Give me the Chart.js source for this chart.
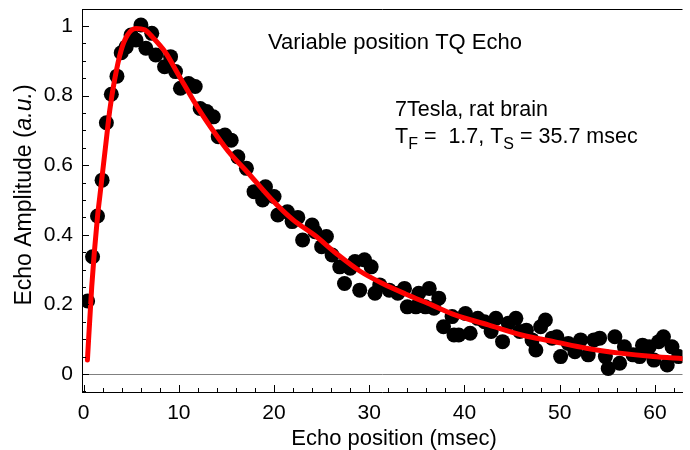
<!DOCTYPE html>
<html>
<head>
<meta charset="utf-8">
<script src="https://cdn.jsdelivr.net/npm/chart.js@4.4.1/dist/chart.umd.min.js"></script>
<style>
  html, body { margin: 0; padding: 0; background: #fff; }
  canvas { display: block; }
</style>
</head>
<body>
<canvas id="c" width="690" height="450"></canvas>
<script>
// ---- data ----
const echoX = [0.42,0.94,1.46,1.94,2.39,2.91,3.5,3.95,4.47,4.98,5.5,6.02,6.54,7.16,7.58,8.5,9.13,9.65,10.17,11.03,11.72,12.24,12.93,13.62,14.14,14.84,15.5,16.2,17.1,17.9,18.8,19.1,20.0,20.4,21.4,21.9,22.5,23.0,24.0,24.3,25.0,25.5,26.1,26.9,27.4,28.0,28.5,29.0,29.5,30.2,30.6,31.1,32.1,33.0,33.7,34.0,34.9,35.2,35.9,36.3,36.8,37.3,37.8,38.7,38.9,39.4,40.1,40.6,41.4,42.1,42.8,43.3,44.0,44.6,45.4,45.8,46.5,47.1,47.5,48.0,48.5,49.2,49.7,50.1,50.9,51.6,52.2,53.0,53.6,54.2,54.8,55.1,55.8,56.3,56.8,57.7,58.4,58.7,59.4,59.9,60.4,60.9,61.3,61.8,62.5];
const echoY = [0.21,0.337,0.454,0.557,0.722,0.804,0.856,0.923,0.94,0.974,0.96,1.003,0.936,0.979,0.917,0.883,0.912,0.869,0.821,0.835,0.826,0.763,0.754,0.739,0.682,0.687,0.672,0.624,0.591,0.524,0.5,0.538,0.51,0.457,0.466,0.438,0.45,0.385,0.428,0.409,0.366,0.395,0.342,0.308,0.26,0.304,0.323,0.241,0.328,0.308,0.232,0.256,0.241,0.232,0.246,0.193,0.193,0.232,0.193,0.246,0.189,0.218,0.136,0.165,0.112,0.112,0.174,0.117,0.16,0.15,0.122,0.16,0.093,0.146,0.16,0.122,0.126,0.098,0.069,0.136,0.155,0.103,0.107,0.05,0.088,0.064,0.098,0.055,0.098,0.103,0.05,0.016,0.107,0.031,0.078,0.055,0.05,0.083,0.078,0.04,0.093,0.107,0.026,0.078,0.05];
const fitX = [0.4,0.85,1.45,1.7,2.3,2.75,3.25,3.95,4.6,5.5,6.4,7.2,8.6,10,12,14,15.2,17.3,19.7,22,24.2,26.6,29,31.4,33.8,36.6,39,42.5,46,49.4,52.8,56.3,59.8,63];
const fitY = [0.04,0.25,0.45,0.51,0.653,0.759,0.845,0.931,0.974,0.993,0.989,0.969,0.924,0.858,0.765,0.684,0.64,0.577,0.503,0.443,0.4,0.345,0.296,0.26,0.23,0.198,0.17,0.141,0.112,0.093,0.074,0.06,0.05,0.044];
const xTickValues = [0,10,20,30,40,50,60];
const xTickLabels = ['0','10','20','30','40','50','60'];
const yTickValues = [0,0.2,0.4,0.6,0.8,1];
const yTickLabels = ['0','0.2','0.4','0.6','0.8','1'];
const xTitleMain = 'Echo position ';
const xTitleUnit = '(msec)';
const yTitleMain = 'Echo Amplitude (';
const yTitleItal = 'a.u.';
const yTitleEnd = ')';
const annTitle = 'Variable position TQ Echo';
const annLine1 = '7Tesla, rat brain';

const FONT = '"Liberation Sans", Arial, sans-serif';

const decor = {
  id: 'decor',
  beforeDatasetsDraw(chart) {
    const {ctx, chartArea: a, scales: {y}} = chart;
    ctx.save();
    const y0 = Math.round(y.getPixelForValue(0)) + 0.5;
    ctx.strokeStyle = '#808080';
    ctx.lineWidth = 1;
    ctx.beginPath(); ctx.moveTo(a.left, y0); ctx.lineTo(a.right, y0); ctx.stroke();
    ctx.restore();
  },
  afterDraw(chart) {
    const {ctx, chartArea: a, scales: {x, y}} = chart;
    ctx.save();
    ctx.strokeStyle = '#000';
    ctx.lineWidth = 1;
    ctx.beginPath(); ctx.moveTo(a.left, a.top + 0.5); ctx.lineTo(a.right, a.top + 0.5); ctx.stroke();
    ctx.beginPath();
    for (let v = 0; v <= 62; v += 2) {
      const px = Math.round(x.getPixelForValue(v)) + 0.5;
      const len = (v % 10 === 0) ? 7 : 4;
      ctx.moveTo(px, a.bottom); ctx.lineTo(px, a.bottom - len);
    }
    for (let k = -1; k <= 21; k++) {
      const v = k * 0.05;
      const py = Math.round(y.getPixelForValue(v)) + 0.5;
      const len = ((k + 100) % 4 === 0) ? 7 : 4;
      ctx.moveTo(a.left, py); ctx.lineTo(a.left + len, py);
    }
    ctx.stroke();

    ctx.fillStyle = '#000';
    ctx.textBaseline = 'alphabetic';
    ctx.textAlign = 'left';
    // x title
    ctx.font = '22px ' + FONT;
    const w1 = ctx.measureText(xTitleMain).width;
    const w2 = ctx.measureText(xTitleUnit).width;
    const sx = 394 - (w1 + w2) / 2;
    ctx.fillText(xTitleMain, sx, 445);
    ctx.fillText(xTitleUnit, sx + w1, 445);

    // y title
    ctx.save();
    ctx.translate(31, 195);
    ctx.rotate(-Math.PI / 2);
    const fN = '23px ' + FONT, fI = 'italic 23px ' + FONT;
    ctx.font = fN;
    const a1 = ctx.measureText(yTitleMain).width;
    const a3 = ctx.measureText(yTitleEnd).width;
    ctx.font = fI;
    const a2 = ctx.measureText(yTitleItal).width;
    const tx = -(a1 + a2 + a3) / 2;
    ctx.font = fN; ctx.fillText(yTitleMain, tx, 0);
    ctx.font = fI; ctx.fillText(yTitleItal, tx + a1, 0);
    ctx.font = fN; ctx.fillText(yTitleEnd, tx + a1 + a2, 0);
    ctx.restore();

    // annotations
    ctx.font = '22px ' + FONT;
    ctx.fillText(annTitle, 268, 49);
    ctx.font = '21.5px ' + FONT;
    ctx.fillText(annLine1, 395, 116);
    const parts = [
      ['T', false], ['F', true], [' =  1.7, T', false], ['S', true], [' = 35.7 msec', false]
    ];
    let cx = 395;
    for (const [t, sub] of parts) {
      ctx.font = (sub ? '16px ' : '21.5px ') + FONT;
      ctx.fillText(t, cx, sub ? 149 : 143);
      cx += ctx.measureText(t).width;
    }
    ctx.restore();
  }
};

new Chart(document.getElementById('c'), {
  data: {
    datasets: [
      {
        type: 'line',
        data: fitX.map((v, i) => ({x: v, y: fitY[i]})),
        borderColor: '#ff0000',
        borderWidth: 5,
        pointRadius: 0,
        fill: false,
        cubicInterpolationMode: 'monotone',
        borderCapStyle: 'round',
        order: 0
      },
      {
        type: 'scatter',
        data: echoX.map((v, i) => ({x: v, y: echoY[i]})),
        backgroundColor: '#000',
        borderWidth: 0,
        pointRadius: 7.5,
        order: 1
      }
    ]
  },
  options: {
    responsive: false,
    animation: false,
    devicePixelRatio: 1,
    layout: { padding: { top: 9, right: 0, left: 0, bottom: 0 } },
    plugins: { legend: { display: false }, tooltip: { enabled: false } },
    scales: {
      x: {
        type: 'linear',
        min: -0.17,
        max: 62.9,
        afterBuildTicks(s) { s.ticks = xTickValues.map(v => ({value: v})); },
        afterFit(s) { s.height = 58; s.paddingLeft = 0; s.paddingRight = 0; },
        ticks: {
          padding: 9,
          color: '#000',
          font: { family: FONT, size: 21 },
          maxRotation: 0,
          callback(v) { const i = xTickValues.indexOf(v); return i >= 0 ? xTickLabels[i] : ''; }
        },
        grid: { display: true, drawOnChartArea: false, drawTicks: false },
        border: { display: true, color: '#000', width: 1 }
      },
      y: {
        type: 'linear',
        min: -0.0517,
        max: 1.0489,
        afterBuildTicks(s) { s.ticks = yTickValues.map(v => ({value: v})); },
        afterFit(s) { s.width = 82; s.paddingTop = 0; s.paddingBottom = 0; },
        ticks: {
          padding: 9,
          color: '#000',
          font: { family: FONT, size: 21 },
          callback(v) { const i = yTickValues.findIndex(t => Math.abs(t - v) < 1e-9); return i >= 0 ? yTickLabels[i] : ''; }
        },
        grid: { display: true, drawOnChartArea: false, drawTicks: false },
        border: { display: true, color: '#000', width: 1 }
      }
    }
  },
  plugins: [decor]
});
</script>
</body>
</html>
